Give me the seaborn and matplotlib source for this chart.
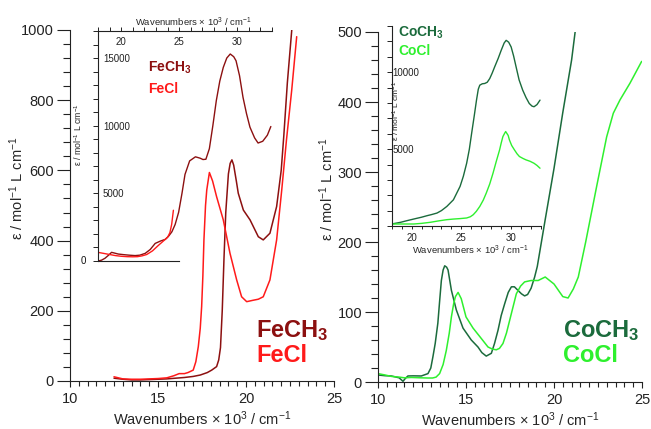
import matplotlib
matplotlib.use("Agg")
import matplotlib.pyplot as plt
from matplotlib.ticker import MultipleLocator, FixedLocator
import seaborn as sns
import numpy as np

# ---------------- data (wavenumbers in 10^3 cm^-1, epsilon in M^-1 cm^-1) ----------------
# Fe complexes, near-IR / visible region
fe_ch3_x = [12.5, 13.0, 13.5, 14.0, 14.5, 15.0, 15.5, 16.0, 16.5, 17.0, 17.4, 17.8, 18.05, 18.33,
            18.45, 18.55, 18.65, 18.75, 18.85, 19.0, 19.1, 19.2, 19.3, 19.45, 19.56, 19.85, 20.23,
            20.7, 20.98, 21.36, 21.74, 22.0, 22.15, 22.35, 22.6]
fe_ch3_y = [8, 5, 3, 3, 4, 5, 6, 8, 10, 13, 17, 24, 31, 41,
            60, 95, 200, 350, 480, 590, 620, 630, 615, 570, 535, 487, 459,
            411, 402, 421, 497, 600, 700, 850, 1000]

fe_cl_x = [12.5, 13.0, 13.5, 14.0, 14.5, 15.0, 15.5, 15.9, 16.2, 16.5, 16.7, 17.0, 17.15, 17.29,
           17.4, 17.48, 17.55, 17.61, 17.7, 17.77, 17.92, 18.1, 18.33, 18.71, 19.09, 19.47, 19.75,
           20.04, 20.4, 20.7, 20.98, 21.36, 21.74, 22.03, 22.3, 22.6, 22.88]
fe_cl_y = [12, 6, 5, 5, 6, 7, 9, 15, 21, 21, 24, 31, 55, 98,
           150, 212, 300, 402, 500, 544, 594, 570, 525, 459, 364, 288, 240,
           226, 230, 233, 240, 288, 402, 544, 687, 830, 981]

# Fe complexes, UV region (inset)
fe_ch3_uv_x = [18.0, 18.3, 18.6, 18.9, 19.17, 19.45, 19.74, 20.2, 20.7, 21.2, 21.6, 22.07, 22.5,
               22.93, 23.4, 23.8, 24.1, 24.37, 24.65, 24.95, 25.24, 25.5, 25.9, 26.4, 26.8, 27.05,
               27.3, 27.6, 27.9, 28.2, 28.5, 28.8, 29.1, 29.4, 29.7, 29.9, 30.2, 30.5, 30.8, 31.1,
               31.5, 31.8, 32.2, 32.6, 32.9]
fe_ch3_uv_y = [0, 60, 200, 420, 640, 580, 515, 470, 430, 400, 430, 565, 850,
               1300, 1480, 1600, 1850, 2160, 2700, 3600, 5000, 6400, 7400, 7700, 7600, 7500,
               7520, 8300, 10000, 11860, 13300, 14310, 15000, 15300, 15100, 14800, 13700, 12100,
               10900, 9890, 9100, 8720, 8850, 9300, 9940]

fe_cl_uv_x = [18.0, 18.5, 19.0, 19.5, 20.0, 20.5, 21.0, 21.4, 21.8, 22.2, 22.7, 23.2, 23.6, 24.0,
              24.2, 24.35, 24.5]
fe_cl_uv_y = [640, 560, 480, 400, 350, 320, 310, 320, 380, 480, 750, 1150, 1450, 1750,
              2100, 2700, 3750]

# Co complexes, near-IR / visible region
co_ch3_x = [10.0, 10.4, 10.76, 11.2, 11.42, 11.55, 11.7, 12.0, 12.46, 12.84, 13.0, 13.12, 13.25,
            13.4, 13.5, 13.6, 13.7, 13.79, 13.9, 13.98, 14.17, 14.45, 14.83, 15.3, 15.68, 15.9,
            16.15, 16.44, 16.62, 16.82, 17.0, 17.2, 17.4, 17.58, 17.75, 17.95, 18.15, 18.33, 18.5,
            18.7, 18.9, 19.05, 19.5, 20.0, 20.5, 21.0, 21.2]
co_ch3_y = [10, 9, 8.6, 6, 1, 5, 8.6, 8.8, 8.6, 12, 20, 36, 55,
            84, 115, 145, 160, 166, 164, 160, 131, 103, 77, 60, 50, 42,
            37, 41, 55, 74, 95, 112, 128, 136, 136, 131, 126, 123, 125,
            134, 150, 165, 232, 305, 385, 460, 500]

co_cl_x = [10.0, 10.4, 10.76, 11.2, 11.5, 11.9, 12.4, 12.84, 13.1, 13.3, 13.5, 13.7, 13.88, 14.05,
           14.17, 14.3, 14.4, 14.55, 14.73, 15.0, 15.4, 15.78, 16.0, 16.25, 16.5, 16.72, 16.9,
           17.1, 17.3, 17.48, 17.7, 17.86, 18.1, 18.33, 18.7, 19.1, 19.5, 20.0, 20.5, 20.8, 21.1,
           21.38, 21.8, 22.42, 22.99, 23.37, 23.75, 24.32, 24.98]
co_cl_y = [12, 10, 8, 7, 6, 6.5, 6, 5.7, 5.7, 7, 12, 25, 45, 70,
           93, 112, 122, 128, 119, 93, 77, 65, 58, 50, 47, 46, 48,
           55, 70, 88, 110, 126, 137, 143, 145, 145, 150, 140, 122, 120, 133,
           150, 200, 279, 350, 384, 403, 427, 458]

# Co complexes, UV region (inset)
co_ch3_uv_x = [18.0, 18.9, 19.5, 20.23, 21.0, 21.56, 22.0, 22.55, 23.0, 23.54, 24.2, 24.87, 25.2,
               25.53, 25.8, 26.03, 26.3, 26.52, 26.7, 26.85, 27.1, 27.35, 27.6, 27.85, 28.1, 28.34,
               28.7, 29.0, 29.3, 29.5, 29.75, 30.0, 30.25, 30.5, 30.8, 31.16, 31.5, 31.82, 32.1,
               32.3, 32.6, 32.9]
co_ch3_uv_y = [150, 260, 360, 474, 590, 690, 760, 860, 1020, 1290, 1720, 2590, 3250,
               4090, 5000, 6030, 7200, 8190, 8900, 9160, 9250, 9270, 9350, 9590, 9950, 10340,
               10900, 11420, 11900, 12070, 11950, 11640, 11050, 10340, 9500, 8840, 8350, 7970, 7800,
               7760, 7900, 8190]

co_cl_uv_x = [18.0, 19.0, 20.23, 21.0, 21.89, 22.7, 23.54, 24.2, 24.87, 25.53, 25.9, 26.19, 26.5,
              26.85, 27.2, 27.5, 27.85, 28.18, 28.5, 28.84, 29.0, 29.17, 29.34, 29.45, 29.55, 29.7,
              29.83, 30.05, 30.33, 30.6, 30.83, 31.2, 31.5, 31.9, 32.3, 32.6, 32.9]
co_cl_uv_y = [150, 150, 150, 190, 260, 350, 430, 470, 500, 540, 620, 750, 970,
              1290, 1700, 2155, 2750, 3450, 4200, 4960, 5400, 5820, 6030, 6150, 6050, 5900,
              5600, 5250, 4960, 4700, 4530, 4400, 4310, 4220, 4090, 3950, 3770]

# ---------------- styling ----------------
sns.set_style("ticks")
plt.rcParams["font.family"] = ["Liberation Sans", "DejaVu Sans"]
plt.rcParams["mathtext.fontset"] = "custom"
plt.rcParams["mathtext.rm"] = "Liberation Sans"
plt.rcParams["mathtext.it"] = "Liberation Sans:italic"
plt.rcParams["mathtext.bf"] = "Liberation Sans:bold"
plt.rcParams["axes.edgecolor"] = "#222222"
plt.rcParams["xtick.color"] = "#222222"
plt.rcParams["ytick.color"] = "#222222"
plt.rcParams["text.color"] = "#111111"

C_FE_CH3 = "#8c1010"
C_FE_CL = "#ff1a1a"
C_CO_CH3 = "#1b6b3c"
C_CO_CL = "#2ef02e"

XLABEL = r"Wavenumbers × 10$^{3}$ / cm$^{-1}$"
YLABEL = r"ε / mol$^{-1}$ L cm$^{-1}$"

W, H = 651, 429
fig = plt.figure(figsize=(W / 100, H / 100), dpi=100)


def px_axes(x0, y_top, x1, y_bot):
    return fig.add_axes([x0 / W, 1 - y_bot / H, (x1 - x0) / W, (y_bot - y_top) / H])


def draw(ax, x, y, color, lw=1.1):
    sns.lineplot(x=x, y=y, ax=ax, color=color, lw=lw, sort=False, estimator=None)


def style_main(ax, ymax, ymajor, yminor):
    ax.set_xlim(10, 25)
    ax.set_ylim(0, ymax)
    for s in ("top", "right"):
        ax.spines[s].set_visible(False)
    ax.xaxis.set_major_locator(MultipleLocator(5))
    ax.xaxis.set_minor_locator(MultipleLocator(0.5))
    ax.yaxis.set_major_locator(MultipleLocator(ymajor))
    ax.yaxis.set_minor_locator(MultipleLocator(yminor))
    ax.tick_params(axis="x", which="major", direction="out", length=4, width=0.8, pad=4, labelsize=10.5)
    ax.tick_params(axis="x", which="minor", direction="out", length=3.4, width=0.8)
    ax.tick_params(axis="y", which="major", direction="out", length=9.5, width=0.8, pad=2, labelsize=10.5)
    ax.tick_params(axis="y", which="minor", direction="out", length=5, width=0.8)
    ax.set_xlabel(XLABEL, fontsize=10.5)
    ax.set_ylabel(YLABEL, fontsize=10.5)
    ax.xaxis.set_label_coords(0.5, -0.08)
    ax.patch.set_alpha(0)


# ---------------- left panel: Fe ----------------
axL = px_axes(70, 30, 334, 381)
draw(axL, fe_ch3_x, fe_ch3_y, C_FE_CH3)
draw(axL, fe_cl_x, fe_cl_y, C_FE_CL)
style_main(axL, 1000, 200, 40)
axL.yaxis.set_label_coords(-0.165, 0.55)
axL.text(0.705, 0.125, r"FeCH$_\mathbf{3}$", transform=axL.transAxes, color=C_FE_CH3,
         fontsize=17, fontweight="bold", va="baseline", ha="left")
axL.text(0.705, 0.054, "FeCl", transform=axL.transAxes, color=C_FE_CL,
         fontsize=17, fontweight="bold", va="baseline", ha="left")

# ---------------- right panel: Co ----------------
axR = px_axes(378, 32, 642, 382)
draw(axR, co_ch3_x, co_ch3_y, C_CO_CH3)
draw(axR, co_cl_x, co_cl_y, C_CO_CL)
style_main(axR, 500, 100, 20)
axR.yaxis.set_label_coords(-0.16, 0.55)
axR.text(0.70, 0.129, r"CoCH$_\mathbf{3}$", transform=axR.transAxes, color=C_CO_CH3,
         fontsize=17, fontweight="bold", va="baseline", ha="left")
axR.text(0.70, 0.057, "CoCl", transform=axR.transAxes, color=C_CO_CL,
         fontsize=17, fontweight="bold", va="baseline", ha="left")

# ---------------- left inset: Fe UV ----------------
iL = px_axes(98, 31, 272, 261)
draw(iL, fe_ch3_uv_x, fe_ch3_uv_y, C_FE_CH3, lw=1.0)
draw(iL, fe_cl_uv_x, fe_cl_uv_y, C_FE_CL, lw=1.0)
iL.set_xlim(18, 33)
iL.set_ylim(0, 17000)
iL.patch.set_alpha(0)
iL.spines["right"].set_visible(False)
iL.spines["bottom"].set_bounds(18, 25)
iL.xaxis.set_major_locator(FixedLocator([20, 25, 30]))
iL.xaxis.set_minor_locator(MultipleLocator(1))
iL.tick_params(axis="x", which="both", top=True, bottom=False, labeltop=True, labelbottom=False,
               direction="out", length=3, width=0.7)
iL.tick_params(axis="x", which="major", pad=-14.5, labelsize=7)
iL.set_yticks([0, 5000, 10000, 15000], labels=["", "5000", "10000", "15000"])
iL.yaxis.set_minor_locator(MultipleLocator(1000))
iL.tick_params(axis="y", which="both", direction="out", length=3.5, width=0.7)
iL.tick_params(axis="y", which="major", pad=-7.1, labelsize=7)
for lab in iL.get_yticklabels():
    lab.set_horizontalalignment("left")
iL.text(-0.069, 0, "0", transform=iL.get_yaxis_transform(), ha="right", va="center", fontsize=7)
iL.xaxis.set_label_position("top")
iL.set_xlabel(XLABEL, fontsize=6.8)
iL.xaxis.set_label_coords(0.546, 1.022)
iL.set_ylabel(YLABEL, fontsize=6.3)
iL.yaxis.set_label_coords(-0.08, 0.548)
iL.text(0.287, 0.822, r"FeCH$_\mathbf{3}$", transform=iL.transAxes, color=C_FE_CH3,
        fontsize=10, fontweight="bold", va="baseline", ha="left")
iL.text(0.287, 0.730, "FeCl", transform=iL.transAxes, color=C_FE_CL,
        fontsize=10, fontweight="bold", va="baseline", ha="left")

# ---------------- right inset: Co UV ----------------
iR = px_axes(391.7, 26, 541, 226.3)
draw(iR, co_ch3_uv_x, co_ch3_uv_y, C_CO_CH3, lw=1.0)
draw(iR, co_cl_uv_x, co_cl_uv_y, C_CO_CL, lw=1.0)
iR.set_xlim(18, 33)
iR.set_ylim(0, 13000)
iR.patch.set_alpha(0)
for s in ("top", "right"):
    iR.spines[s].set_visible(False)
iR.xaxis.set_major_locator(FixedLocator([20, 25, 30]))
iR.xaxis.set_minor_locator(MultipleLocator(1))
iR.tick_params(axis="x", which="both", direction="out", length=2.5, width=0.7)
iR.tick_params(axis="x", which="major", pad=2, labelsize=7)
iR.set_yticks([0, 5000, 10000], labels=["", "5000", "10000"])
iR.yaxis.set_minor_locator(MultipleLocator(1000))
iR.tick_params(axis="y", which="both", direction="out", length=3.5, width=0.7)
iR.tick_params(axis="y", which="major", pad=-4.0, labelsize=7)
for lab in iR.get_yticklabels():
    lab.set_horizontalalignment("left")
iR.set_xlabel(XLABEL, fontsize=6.8)
iR.xaxis.set_label_coords(0.524, -0.088)
iR.set_ylabel(YLABEL, fontsize=6.0)
iR.yaxis.set_label_coords(0.066, 0.576)
iR.text(0.042, 0.945, r"CoCH$_\mathbf{3}$", transform=iR.transAxes, color=C_CO_CH3,
        fontsize=10, fontweight="bold", va="baseline", ha="left")
iR.text(0.042, 0.855, "CoCl", transform=iR.transAxes, color=C_CO_CL,
        fontsize=10, fontweight="bold", va="baseline", ha="left")

fig.savefig("out.png", dpi=100)
